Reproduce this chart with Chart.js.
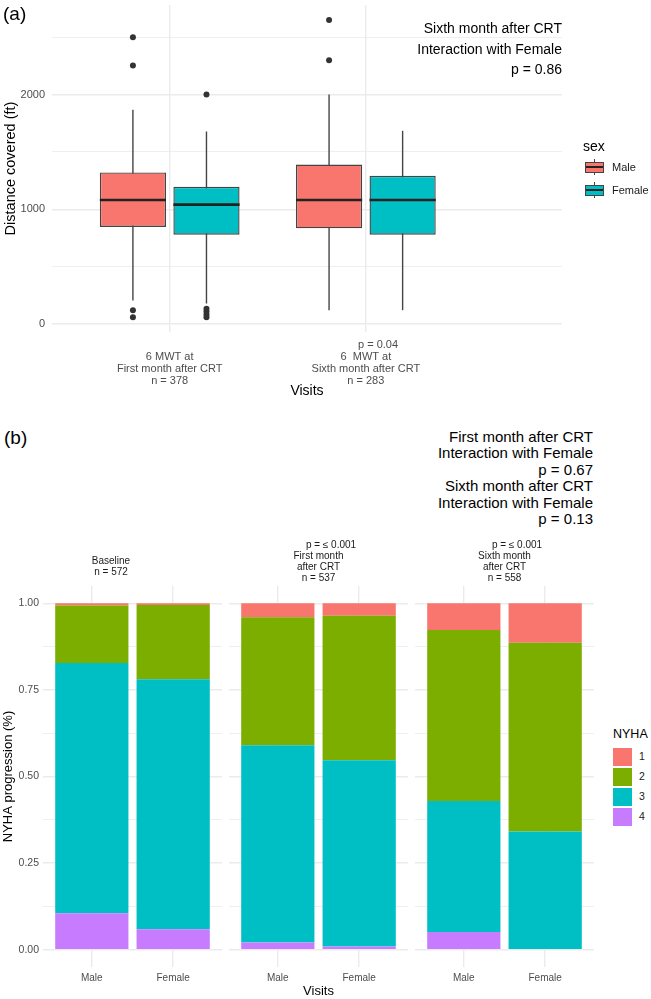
<!DOCTYPE html>
<html lang="en">
<head>
<meta charset="UTF-8">
<title>6 MWT and NYHA progression by sex</title>
<script src="https://cdn.jsdelivr.net/npm/chart.js"></script>
<style>
  body { margin: 0; background: #fff; font-family: 'Liberation Sans', Arial, sans-serif; }
  #page { position: relative; width: 651px; height: 999px; overflow: hidden; background: #fff; }
  canvas { position: absolute; }
  .txt { position: absolute; white-space: pre; color: #000; }
  .key { position: absolute; }
</style>
</head>
<body>
<div id="page">
  <canvas id="boxChart" width="651" height="400" style="left:0;top:0"></canvas>
  <canvas id="facet0" width="226" height="469" style="left:0;top:530px"></canvas>
  <canvas id="facet1" width="186" height="469" style="left:226px;top:530px"></canvas>
  <canvas id="facet2" width="186" height="469" style="left:412px;top:530px"></canvas>

  <div class="txt" style="left:3px;top:3px;font-size:19px">(a)</div>
  <div class="txt" style="right:89px;top:18px;font-size:14px;line-height:20.5px;text-align:right">Sixth month after CRT
Interaction with Female
p = 0.86</div>
  <div class="txt" style="left:583px;top:138px;font-size:14px">sex</div>

  <div class="txt" style="left:4px;top:427px;font-size:19px">(b)</div>
  <div class="txt" style="right:58px;top:429px;font-size:15px;line-height:16.4px;text-align:right">First month after CRT
Interaction with Female
p = 0.67
Sixth month after CRT
Interaction with Female
p = 0.13</div>
  <div class="txt" style="left:613px;top:727px;font-size:12.5px">NYHA</div>
</div>

<script>
// ---- panel (a): 6 MWT distance by sex ----
const visitsA = [1, 2];
const visitLabelsA = [
  ["", "6 MWT at", "First month after CRT", "n = 378"],
  ["        p = 0.04", "6  MWT at", "Sixth month after CRT", "n = 283"]
];
const sexes = ["Male", "Female"];
const sexColors = ["#F8766D", "#00BFC4"];

const maleLow = [206, 122];
const maleQ1 = [847, 835];
const maleMed = [1082, 1082];
const maleQ3 = [1322, 1391];
const maleHigh = [1867, 2000];
const maleOutliers = [[2499, 2252, 122, 61], [2650, 2299]];

const femaleLow = [180, 122];
const femaleQ1 = [780, 780];
const femaleMed = [1041, 1082];
const femaleQ3 = [1197, 1293];
const femaleHigh = [1678, 1684];
const femaleOutliers = [[2000, 134, 110, 85, 61], []];

const yMajorA = [0, 1000, 2000];
const yMinorA = [500, 1500, 2500];

// ---- panel (b): NYHA class proportions ----
const stripLabels = [
  ["Baseline", "n = 572"],
  ["         p = \u2264 0.001", "First month", "after CRT", "n = 537"],
  ["         p = \u2264 0.001", "Sixth month", "after CRT", "n = 558"]
];
const nyhaLevels = ["1", "2", "3", "4"];
const nyhaColors = ["#F8766D", "#7CAE00", "#00BFC4", "#C77CFF"];
// order: Baseline M, F, First month M, F, Sixth month M, F
const nyha1 = [0.006, 0.005, 0.040, 0.036, 0.077, 0.114];
const nyha2 = [0.166, 0.214, 0.370, 0.417, 0.494, 0.545];
const nyha3 = [0.723, 0.722, 0.569, 0.538, 0.378, 0.341];
const nyha4 = [0.105, 0.059, 0.021, 0.009, 0.051, 0.000];
const yMajorB = [0, 0.25, 0.5, 0.75, 1];
const yMinorB = [0.125, 0.375, 0.625, 0.875];

const FONT = "'Liberation Sans', Arial, sans-serif";
Chart.defaults.font.family = FONT;
const GRID = "#ebebeb";
const TICK = "#4d4d4d";
const dodge = 0.1875;

const boxStats = [
  {low: maleLow, q1: maleQ1, med: maleMed, q3: maleQ3, high: maleHigh},
  {low: femaleLow, q1: femaleQ1, med: femaleMed, q3: femaleQ3, high: femaleHigh}
];

// whiskers behind the boxes, medians on top
const boxParts = {
  id: 'boxParts',
  beforeDatasetsDraw(chart) {
    const {ctx} = chart;
    const y = chart.scales.y;
    ctx.save();
    ctx.strokeStyle = '#444444';
    ctx.lineWidth = 1.4;
    boxStats.forEach((s, d) => {
      chart.getDatasetMeta(d).data.forEach((bar, i) => {
        ctx.beginPath();
        ctx.moveTo(bar.x, y.getPixelForValue(s.low[i]));
        ctx.lineTo(bar.x, y.getPixelForValue(s.high[i]));
        ctx.stroke();
      });
    });
    ctx.restore();
  },
  afterDatasetsDraw(chart) {
    const {ctx} = chart;
    const y = chart.scales.y;
    ctx.save();
    ctx.strokeStyle = '#222222';
    ctx.lineWidth = 2.6;
    boxStats.forEach((s, d) => {
      chart.getDatasetMeta(d).data.forEach((bar, i) => {
        const py = y.getPixelForValue(s.med[i]);
        ctx.beginPath();
        ctx.moveTo(bar.x - bar.width / 2, py);
        ctx.lineTo(bar.x + bar.width / 2, py);
        ctx.stroke();
      });
    });
    ctx.restore();
  }
};

const offsets = [-dodge, dodge];
const boxDatasets = boxStats.map((s, d) => ({
  label: sexes[d],
  data: visitsA.map((v, i) => ({x: v + offsets[d], y: [s.q1[i], s.q3[i]]})),
  backgroundColor: sexColors[d],
  borderColor: '#444444',
  borderWidth: 1.4,
  borderSkipped: false,
  grouped: false,
  barPercentage: 0.9,
  categoryPercentage: 1
}));
const outlierPoints = [];
[maleOutliers, femaleOutliers].forEach((set, d) => {
  set.forEach((vals, i) => vals.forEach(v => outlierPoints.push({x: visitsA[i] + offsets[d], y: v})));
});

new Chart(document.getElementById('boxChart'), {
  type: 'bar',
  data: {
    datasets: [...boxDatasets, {
      type: 'scatter',
      data: outlierPoints,
      pointRadius: 3,
      pointBackgroundColor: '#333333',
      pointBorderWidth: 0
    }]
  },
  options: {
    responsive: false,
    animation: false,
    layout: {autoPadding: false, padding: {left: 0, right: 89, top: 5, bottom: 0}},
    plugins: {legend: {display: false}, tooltip: {enabled: false}},
    scales: {
      x: {
        type: 'linear', min: 0.4, max: 3.0, offset: false,
        grid: {offset: false, color: GRID, lineWidth: 1.4, drawTicks: false},
        border: {display: false},
        afterBuildTicks: s => { s.ticks = visitsA.map(v => ({value: v})); },
        afterFit: s => { s.height = 68; },
        ticks: {
          autoSkip: false, maxRotation: 0, padding: 7.5, color: TICK,
          font: {size: 11, lineHeight: 1.08},
          callback: v => visitLabelsA[visitsA.indexOf(v)]
        },
        title: {display: true, text: 'Visits', color: '#000', font: {size: 14}, padding: {top: 0, bottom: 0}}
      },
      y: {
        min: -68, max: 2780,
        grid: {color: GRID, drawTicks: false,
          lineWidth: c => (c.tick && yMajorA.includes(c.tick.value)) ? 1.4 : 0.8},
        border: {display: false},
        afterBuildTicks: s => { s.ticks = [...yMajorA, ...yMinorA].sort((a, b) => a - b).map(v => ({value: v})); },
        afterFit: s => { s.width = 52; s.paddingTop = 0; s.paddingBottom = 0; },
        ticks: {
          autoSkip: false, padding: 7, color: TICK, font: {size: 11},
          callback: v => yMajorA.includes(v) ? String(v) : ''
        },
        title: {display: true, text: 'Distance covered (ft)', color: '#000', font: {size: 14.5}, padding: {top: 2, bottom: 0}}
      }
    }
  },
  plugins: [boxParts]
});

// ---- panel (b) facets ----
const nyhaSeries = [nyha1, nyha2, nyha3, nyha4];
const stripPad = [{top: 25.5, bottom: 8.5}, {top: 9.5, bottom: 2.5}, {top: 9.5, bottom: 2.5}];

function makeFacet(k) {
  const first = k === 0;
  const datasets = nyhaSeries.map((series, n) => ({
    label: nyhaLevels[n],
    data: sexes.map((s, j) => ({x: j + 1, y: series[2 * k + j]})),
    backgroundColor: nyhaColors[n],
    borderWidth: 0,
    grouped: false,
    barPercentage: 0.9,
    categoryPercentage: 1
  })).reverse();

  new Chart(document.getElementById('facet' + k), {
    type: 'bar',
    data: {datasets},
    options: {
      responsive: false,
      animation: false,
      layout: {autoPadding: false, padding: {left: first ? 0 : 3, right: 4, top: 0, bottom: 0}},
      plugins: {
        legend: {display: false},
        tooltip: {enabled: false},
        title: {display: true, text: stripLabels[k], color: '#1a1a1a',
          font: {size: 10, weight: 'normal', lineHeight: 1.1}, padding: stripPad[k]}
      },
      scales: {
        x: {
          type: 'linear', min: 0.4, max: 2.6, offset: false,
          grid: {offset: false, color: GRID, lineWidth: 1.4, drawTicks: false},
          border: {display: false},
          afterBuildTicks: s => { s.ticks = sexes.map((x, j) => ({value: j + 1})); },
          afterFit: s => { s.height = 32; },
          ticks: {autoSkip: false, maxRotation: 0, padding: 5, color: TICK,
            font: {size: 10}, callback: v => sexes[v - 1]},
          title: {display: k === 1, text: 'Visits', color: '#000', font: {size: 13}, padding: {top: 0, bottom: 0}}
        },
        y: {
          stacked: true, min: -0.05, max: 1.05,
          grid: {color: GRID, drawTicks: false,
            lineWidth: c => (c.tick && yMajorB.includes(c.tick.value)) ? 1.4 : 0.8},
          border: {display: false},
          afterBuildTicks: s => { s.ticks = [...yMajorB, ...yMinorB].sort((a, b) => a - b).map(v => ({value: v})); },
          afterFit: s => { s.width = first ? 43 : 0; s.paddingTop = 0; s.paddingBottom = 0; },
          ticks: {display: first, autoSkip: false, padding: 4, color: TICK, font: {size: 10.5},
            callback: v => yMajorB.includes(v) ? v.toFixed(2) : ''},
          title: {display: first, text: 'NYHA progression (%)', color: '#000', font: {size: 13}, padding: {top: 1, bottom: 0}}
        }
      }
    }
  });
}
[0, 1, 2].forEach(makeFacet);

// ---- legends ----
const page = document.getElementById('page');
sexes.forEach((s, i) => {
  const top = 159 + i * 22.5;
  const key = document.createElement('div');
  key.className = 'key';
  key.style.cssText = `left:585px;top:${top}px;width:19px;height:16px;`;
  key.innerHTML =
    `<div style="position:absolute;left:9px;top:0;width:1.3px;height:16px;background:#444"></div>` +
    `<div style="position:absolute;left:0;top:3px;width:17px;height:9px;border:1.2px solid #444;background:${sexColors[i]}">` +
    `<div style="position:absolute;left:0;right:0;top:3.4px;height:2px;background:#222"></div></div>`;
  page.appendChild(key);
  const lab = document.createElement('div');
  lab.className = 'txt';
  lab.style.cssText = `left:612px;top:${top + 2}px;font-size:11px;color:#1a1a1a`;
  lab.textContent = s;
  page.appendChild(lab);
});

nyhaLevels.forEach((lv, i) => {
  const top = 747.5 + i * 20;
  const key = document.createElement('div');
  key.className = 'key';
  key.style.cssText = `left:613px;top:${top}px;width:19px;height:18px;background:${nyhaColors[i]}`;
  page.appendChild(key);
  const lab = document.createElement('div');
  lab.className = 'txt';
  lab.style.cssText = `left:639px;top:${top + 2.5}px;font-size:10.5px;color:#1a1a1a`;
  lab.textContent = lv;
  page.appendChild(lab);
});
</script>
</body>
</html>
